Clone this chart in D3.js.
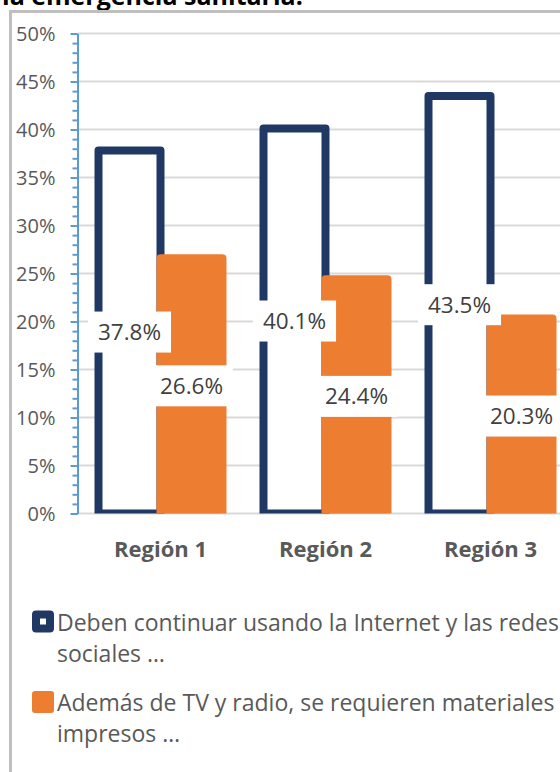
<!DOCTYPE html>
<html>
<head>
<meta charset="utf-8">
<script src="https://cdn.jsdelivr.net/npm/d3@7"></script>
<style>
  body { margin: 0; background: #fff; }
  svg { display: block; font-family: "Open Sans", sans-serif; }
</style>
</head>
<body>
<svg id="chart" width="560" height="772"></svg>
<script>
// data
const regions = ["Región 1", "Región 2", "Región 3"];
const seriesKeys = ["internet", "impresos"];
const internetValues = [37.8, 40.1, 43.5];
const impresosValues = [26.6, 24.4, 20.3];
const seriesColors = ["#203864", "#ED7D31"];
const legendLines = [
    ["Deben continuar usando la Internet y las redes", "sociales …"],
    ["Además de TV y radio, se requieren materiales", "impresos …"]
];
const yMajorTicks = [0, 5, 10, 15, 20, 25, 30, 35, 40, 45, 50];
const titleText = "la emergencia sanitaria.";

const svg = d3.select("#chart");

// title (cut at the top like the source)
svg.append("text")
    .attr("x", 2)
    .attr("y", 5)
    .style("font-weight", "bold")
    .style("font-size", "25px")
    .attr("fill", "#000")
    .text(titleText);

// chart frame
svg.append("rect")
    .attr("x", 10.5)
    .attr("y", 11.5)
    .attr("width", 600)
    .attr("height", 800)
    .attr("fill", "#fff")
    .attr("stroke", "#bfbfbf")
    .attr("stroke-width", 3);

const axisX = 77.5;
const y = d3.scaleLinear().domain([0, 50]).range([513.5, 33.5]);
const x0 = d3.scaleBand().domain(regions).range([78, 573]).paddingInner(0.2485).paddingOuter(0.2485 / 2);
const x1 = d3.scaleBand().domain(seriesKeys).range([0, x0.bandwidth()]);

// gridlines
svg.append("g")
    .selectAll("line")
    .data(yMajorTicks)
    .join("line")
    .attr("x1", axisX)
    .attr("x2", 560)
    .attr("y1", d => y(d))
    .attr("y2", d => y(d))
    .attr("stroke", "#d9d9d9")
    .attr("stroke-width", 2);

// bars
svg.append("clipPath").attr("id", "plotClip")
    .append("rect").attr("x", 0).attr("y", 0).attr("width", 560).attr("height", y(0));

const rows = regions.map((r, i) => ({ region: r, internet: internetValues[i], impresos: impresosValues[i] }));

const barG = svg.append("g").attr("clip-path", "url(#plotClip)");
rows.forEach(row => {
    seriesKeys.forEach((k, si) => {
        barG.append("rect")
            .attr("x", x0(row.region) + x1(k))
            .attr("y", y(row[k]))
            .attr("width", x1.bandwidth())
            .attr("height", y(0) - y(row[k]))
            .attr("fill", si === 0 ? "#fff" : seriesColors[1])
            .attr("stroke", seriesColors[si])
            .attr("stroke-width", 8)
            .attr("stroke-linejoin", "round");
    });
});

// y axis
const yAxisMinor = d3.axisLeft(y)
    .tickValues(d3.range(0, 51, 1))
    .tickSize(5)
    .tickSizeOuter(0)
    .tickFormat("");
const minorG = svg.append("g").attr("transform", "translate(" + axisX + ",0)").call(yAxisMinor);

const yAxis = d3.axisLeft(y)
    .tickValues(yMajorTicks)
    .tickSize(7)
    .tickSizeOuter(0)
    .tickPadding(15)
    .tickFormat(d => d + "%");
const majorG = svg.append("g").attr("transform", "translate(" + axisX + ",0)").call(yAxis);

[minorG, majorG].forEach(g => {
    g.select(".domain").attr("stroke", "#5B9BD5").attr("stroke-width", 2);
    g.selectAll(".tick line").attr("stroke", "#5B9BD5").attr("stroke-width", 2);
});
majorG.selectAll(".tick text")
    .attr("fill", "#595959")
    .style("font-size", "20px")
    .attr("dy", "0.36em");
majorG.attr("font-family", null).attr("font-size", null);

// data labels
const labelG = svg.append("g");
rows.forEach(row => {
    seriesKeys.forEach(k => {
        const cx = x0(row.region) + x1(k) + x1.bandwidth() / 2;
        const cy = (y(row[k]) + y(0)) / 2;
        const g = labelG.append("g");
        const box = g.append("rect").attr("fill", "#fff");
        const t = g.append("text")
            .attr("x", cx)
            .attr("y", cy)
            .attr("dy", "0.36em")
            .attr("text-anchor", "middle")
            .attr("fill", "#404040")
            .style("font-size", "22.5px")
            .text(row[k].toFixed(1) + "%");
        const w = t.node().getComputedTextLength() + 20;
        box.attr("x", cx - w / 2).attr("y", cy - 20.5).attr("width", w).attr("height", 41);
    });
});

// category labels
svg.append("g")
    .selectAll("text")
    .data(regions)
    .join("text")
    .attr("x", d => x0(d) + x0.bandwidth() / 2)
    .attr("y", 557)
    .attr("text-anchor", "middle")
    .attr("fill", "#595959")
    .style("font-weight", "bold")
    .style("font-size", "22px")
    .text(d => d);

// legend
const legendTop = [621.5, 702];
const legend = svg.append("g");
legendLines.forEach((lines, i) => {
    const cy = legendTop[i];
    if (i === 0) {
        legend.append("rect")
            .attr("x", 36).attr("y", cy - 7).attr("width", 14).attr("height", 14)
            .attr("fill", "#fff").attr("stroke", seriesColors[0]).attr("stroke-width", 8)
            .attr("stroke-linejoin", "round");
    } else {
        legend.append("rect")
            .attr("x", 32).attr("y", cy - 11).attr("width", 22).attr("height", 22)
            .attr("rx", 3)
            .attr("fill", seriesColors[1]);
    }
    lines.forEach((line, li) => {
        legend.append("text")
            .attr("x", 57)
            .attr("y", cy + 9 + li * 31)
            .attr("fill", "#595959")
            .style("font-size", "23px")
            .text(line);
    });
});
</script>
</body>
</html>
